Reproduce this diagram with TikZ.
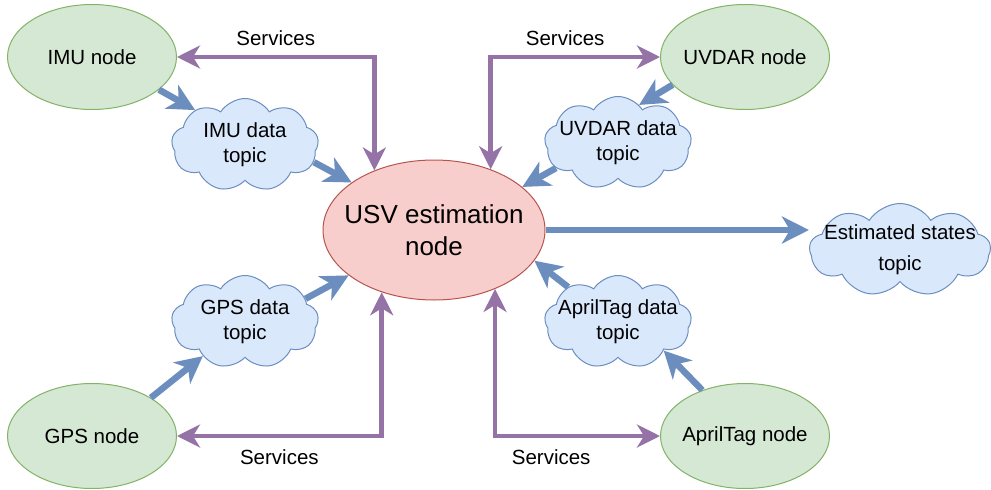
\documentclass[tikz,border=0pt]{standalone}
\usepackage{fontspec}
\setmainfont{Liberation Sans}
\usetikzlibrary{arrows.meta,shapes.geometric,shapes.symbols}

\definecolor{nodegreen}{HTML}{D5E8D4}
\definecolor{nodegreenline}{HTML}{82B366}
\definecolor{nodered}{HTML}{F8CECC}
\definecolor{noderedline}{HTML}{B85450}
\definecolor{topicblue}{HTML}{DAE8FC}
\definecolor{topicblueline}{HTML}{6C8EBF}
\definecolor{servicepurple}{HTML}{9673A6}

\tikzset{
  rosnode/.style={ellipse, draw=nodegreenline, fill=nodegreen, line width=1pt, minimum width=169pt, minimum height=105pt, inner xsep=-40pt, inner ysep=0pt, font=\fontsize{20.5}{25}\selectfont},
  estnode/.style={ellipse, draw=noderedline, fill=nodered, line width=1pt, minimum width=222pt, minimum height=140pt, inner xsep=-50pt, inner ysep=0pt, align=center, font=\fontsize{26}{32}\selectfont},
  topic/.style={cloud, cloud puffs=9, cloud puff arc=115, cloud ignores aspect, draw=topicblueline, fill=topicblue, line width=1pt, minimum width=147pt, minimum height=93pt, inner xsep=-40pt, inner ysep=-5pt, align=center, font=\fontsize{20.5}{25}\selectfont},
  datalink/.style={line width=6.5pt, draw=topicblueline, -{Stealth[length=27pt, width=27pt, inset=8pt]}},
  servicelink/.style={line width=4.5pt, draw=servicepurple, {Stealth[length=23pt, width=23pt, inset=7pt]}-{Stealth[length=23pt, width=23pt, inset=7pt]}},
  servlabel/.style={font=\fontsize{20.5}{25}\selectfont, inner sep=0pt}
}

\begin{document}
\begin{tikzpicture}[x=1pt, y=-1pt]
  \useasboundingbox (0,0) rectangle (991,490);

  % nodes
  \node[rosnode] (imu) at (92,57) {IMU node};
  \node[rosnode] (uvdar) at (745,57) {UVDAR node};
  \node[rosnode] (gps) at (92,436) {GPS node};
  \node[rosnode] (apriltag) at (745,436) {AprilTag node};
  \node[estnode] (usv) at (434,230) {USV estimation\\node};

  % topics
  \node[topic] (imutopic) at (245,145) {IMU data\\topic};
  \node[topic] (uvdartopic) at (618,143) {UVDAR data\\topic};
  \node[topic] (gpstopic) at (245,322) {GPS data\\topic};
  \node[topic] (apriltagtopic) at (618,322) {AprilTag data\\topic};
  \node[topic, minimum width=181pt] (statestopic) at (900,250) {Estimated states\\[6pt]topic};

  % data flow
  \draw[datalink] (imu.334) -- (imutopic.145);
  \draw[datalink] (imutopic.346) -- (usv.150);
  \draw[datalink] (uvdar.201) -- (uvdartopic.61);
  \draw[datalink] (uvdartopic.202) -- (usv.26);
  \draw[datalink] (gps.33) -- (gpstopic.219);
  \draw[datalink] (gpstopic.21) -- (usv.208);
  \draw[datalink] (apriltag.133) -- (apriltagtopic.328);
  \draw[datalink] (apriltagtopic.145) -- (usv.343);
  \draw[datalink] (usv) -- (usv -| statestopic.west);

  % services
  \draw[servicelink] (imu.east) -| node[servlabel, pos=0.25, above=9pt] {Services} (usv.135);
  \draw[servicelink] (uvdar.west) -| node[servlabel, pos=0.28, above=9pt] {Services} (usv.47);
  \draw[servicelink] (gps.east) -| node[servlabel, pos=0.25, below=11pt] {Services} (usv.230);
  \draw[servicelink] (apriltag.west) -| node[servlabel, pos=0.33, below=11pt] {Services} (usv.316);
\end{tikzpicture}
\end{document}
